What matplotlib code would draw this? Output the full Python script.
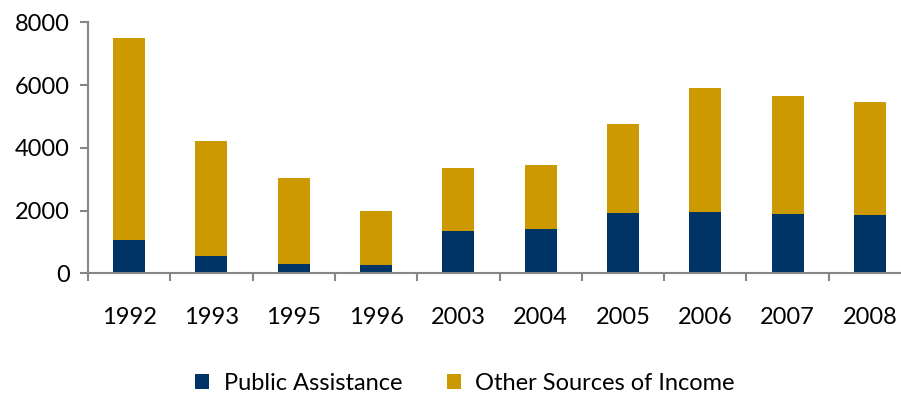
import matplotlib.pyplot as plt
import numpy as np

plt.rcParams['font.family'] = ['Lato', 'DejaVu Sans']

years = ["1992", "1993", "1995", "1996", "2003", "2004", "2005", "2006", "2007", "2008"]
public_assistance = [1060, 550, 310, 280, 1360, 1420, 1930, 1960, 1900, 1850]
totals = [7490, 4230, 3030, 1990, 3350, 3460, 4760, 5900, 5660, 5470]
other_income = [t - p for t, p in zip(totals, public_assistance)]

navy = "#003366"
gold = "#CC9900"
axis_grey = "#868686"

fig = plt.figure(figsize=(9.01, 3.93), dpi=100)
ax = fig.add_axes([88 / 901, 1 - 273.3 / 393, 823 / 901, 251 / 393])

x = np.arange(len(years))
ax.bar(x, public_assistance, width=0.39, color=navy, label="Public Assistance")
ax.bar(x, other_income, width=0.39, bottom=public_assistance, color=gold,
       label="Other Sources of Income")

ax.set_xlim(-0.5, len(years) - 0.5)
ax.set_ylim(0, 8000)
ax.set_yticks(range(0, 8001, 2000))

# year labels sit in the middle, tick marks go between the categories
ax.set_xticks(x)
ax.set_xticklabels(years)
ax.tick_params(axis="x", which="major", length=0, pad=24, labelsize=17)
ax.set_xticks(np.arange(len(years) + 1) - 0.5, minor=True)
ax.tick_params(axis="x", which="minor", length=6, width=1.5, color=axis_grey, direction="out")
ax.tick_params(axis="y", length=6, width=1.5, color=axis_grey, labelsize=17, pad=7)

for side in ("top", "right"):
    ax.spines[side].set_visible(False)
for side in ("left", "bottom"):
    ax.spines[side].set_color(axis_grey)
    ax.spines[side].set_linewidth(1.5)

fig.legend(loc="center", bbox_to_anchor=(465 / 901, 1 - 383 / 393), ncol=2,
           frameon=False, fontsize=17, handlelength=0.6, handleheight=0.6,
           handletextpad=0.6, columnspacing=1.9)

fig.savefig("out.png", dpi=100)
